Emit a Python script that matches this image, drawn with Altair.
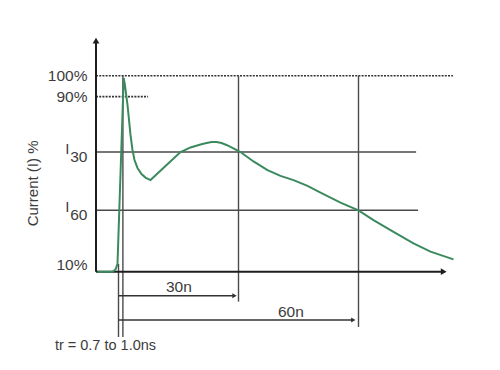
import altair as alt
import pandas as pd

# ---- data (time in ns, current in %) ----
curve_t = [-5.25, -1.5, -0.75, -0.25, 1.3, 1.6, 2.25, 3.0, 3.5, 4.0, 4.75, 5.75, 6.75, 8.0,
           11.75, 15.5, 18.0, 20.5, 21.75, 23.25, 24.5, 25.75, 27.0, 28.25, 30.5, 33.75,
           37.25, 40.5, 43.75, 47.25, 50.5, 55.5, 60.0, 63.75, 68.75, 73.75, 78.0, 83.75]
curve_v = [6.3, 6.3, 7.4, 10.0, 98.9, 95.6, 86.0, 71.7, 64.5, 59.7, 55.9, 53.0, 51.3, 50.1,
           56.8, 63.5, 65.7, 67.1, 67.7, 68.3, 68.3, 67.8, 66.9, 65.7, 63.5, 59.0,
           54.9, 52.1, 50.1, 47.3, 44.1, 39.3, 35.6, 31.0, 25.4, 19.9, 15.9, 12.2]

# horizontal reference levels
level_v = [100, 90, 63.5, 35.7]
level_start = [-5.625, -5.625, -5.625, -5.625]
level_end = [83.6, 7.4, 74.4, 74.9]
level_dotted = [True, True, False, False]

# vertical markers
marker_t = [0, 1.1, 30, 60]
marker_top = [10, 100, 100, 100]
marker_bottom = [-24.9, -24.9, -8.0, -20.1]

# axes
axis_t0 = -5.625
axis_v0 = 6.3
axis_t_end = 81.3
axis_v_end = 116.8

# time spans
span_labels = ["30n", "60n"]
span_end = [29.0, 58.7]
span_v = [-5.2, -16.8]
span_label_t = [15.1, 43.1]
span_label_v = [-1.1, -13.1]

# tick labels
tick_labels = ["100%", "90%", "10%"]
tick_v = [100, 90, 9.5]
sub_labels = ["30", "60"]
sub_v = [63.5, 35.7]

y_title = "Current (I) %"
tr_label = "tr = 0.7 to 1.0ns"

# ---- scales ----
XS = alt.Scale(domain=[-27.625, 93.375], nice=False, zero=False)
YS = alt.Scale(domain=[-36.85, 132.36], nice=False, zero=False)
FONT = "Liberation Sans"
TXT = "#3c3c3c"
LINE = "#4a4a4a"


def X(f):
    return alt.X(f, type="quantitative", scale=XS, axis=None)


def Y(f):
    return alt.Y(f, type="quantitative", scale=YS, axis=None)


levels = pd.DataFrame({"v": level_v, "t1": level_start, "t2": level_end, "dotted": level_dotted})
solid_levels = alt.Chart(levels[~levels.dotted]).mark_rule(color=LINE, strokeWidth=1.4).encode(
    x=X("t1"), x2="t2", y=Y("v"))
dotted_levels = alt.Chart(levels[levels.dotted]).mark_rule(
    color="#333", strokeWidth=1.6, strokeDash=[2, 1.2]).encode(x=X("t1"), x2="t2", y=Y("v"))

markers = pd.DataFrame({"t": marker_t, "top": marker_top, "bottom": marker_bottom})
marker_rules = alt.Chart(markers).mark_rule(color=LINE, strokeWidth=1.4).encode(
    x=X("t"), y=Y("top"), y2="bottom")

axes_h = pd.DataFrame({"t1": [axis_t0], "t2": [axis_t_end], "v": [axis_v0]})
axes_v = pd.DataFrame({"t": [axis_t0], "v1": [axis_v0], "v2": [axis_v_end]})
x_axis = alt.Chart(axes_h).mark_rule(color="#1e1e1e", strokeWidth=2).encode(
    x=X("t1"), x2="t2", y=Y("v"))
y_axis = alt.Chart(axes_v).mark_rule(color="#1e1e1e", strokeWidth=2).encode(
    x=X("t"), y=Y("v1"), y2="v2")
x_head = alt.Chart(axes_h).mark_point(shape="triangle-right", filled=True, color="#1e1e1e",
                                      size=45, opacity=1).encode(x=X("t2"), y=Y("v"))
y_head = alt.Chart(axes_v).mark_point(shape="triangle-up", filled=True, color="#1e1e1e",
                                      size=45, opacity=1).encode(x=X("t"), y=Y("v2"))

spans = pd.DataFrame({"label": span_labels, "end": span_end, "v": span_v,
                      "lt": span_label_t, "lv": span_label_v, "start": [0, 0]})
span_rules = alt.Chart(spans).mark_rule(color="#333", strokeWidth=1.4).encode(
    x=X("start"), x2="end", y=Y("v"))
span_heads = alt.Chart(spans).mark_point(shape="triangle-right", filled=True, color="#333",
                                         size=25, opacity=1).encode(x=X("end"), y=Y("v"))
span_text = alt.Chart(spans).mark_text(font=FONT, fontSize=15.5, color=TXT).encode(
    x=X("lt"), y=Y("lv"), text="label")

curve = alt.Chart(pd.DataFrame({"t": curve_t, "v": curve_v, "o": range(len(curve_t))})).mark_line(
    color="#3b8a5e", strokeWidth=2, interpolate="linear").encode(x=X("t"), y=Y("v"), order="o")

ticks = pd.DataFrame({"label": tick_labels, "v": tick_v, "t": [-7.75] * 3})
tick_text = alt.Chart(ticks).mark_text(font=FONT, fontSize=15.5, color=TXT, align="right",
                                       baseline="middle").encode(x=X("t"), y=Y("v"), text="label")

subs = pd.DataFrame({"label": sub_labels, "v": sub_v, "t": [-7.75] * 2, "I": ["I", "I"]})
sub_text = alt.Chart(subs).mark_text(font=FONT, fontSize=15.5, color=TXT, align="right",
                                     baseline="middle", dy=5).encode(x=X("t"), y=Y("v"), text="label")
i_text = alt.Chart(subs).mark_text(font=FONT, fontSize=15, color=TXT, align="right",
                                   baseline="middle", dx=-18, dy=-3).encode(x=X("t"), y=Y("v"), text="I")

title_df = pd.DataFrame({"label": [y_title], "t": [-21.5], "v": [48.5]})
title_text = alt.Chart(title_df).mark_text(font=FONT, fontSize=15, color=TXT, angle=270,
                                           baseline="middle").encode(x=X("t"), y=Y("v"), text="label")

tr_df = pd.DataFrame({"label": [tr_label], "t": [-15.9], "v": [-29.1]})
tr_text = alt.Chart(tr_df).mark_text(font=FONT, fontSize=14.5, color=TXT, align="left",
                                     baseline="middle").encode(x=X("t"), y=Y("v"), text="label")

chart = alt.layer(
    solid_levels, dotted_levels, marker_rules, x_axis, y_axis, x_head, y_head,
    span_rules, span_heads, span_text, curve, tick_text, sub_text, i_text, title_text, tr_text
).properties(
    width=484, height=354, autosize=alt.AutoSizeParams(type="none"), padding=0,
    background="white"
).configure_view(stroke=None)

chart.save("out.html", embed_options={"renderer": "svg", "actions": False})
